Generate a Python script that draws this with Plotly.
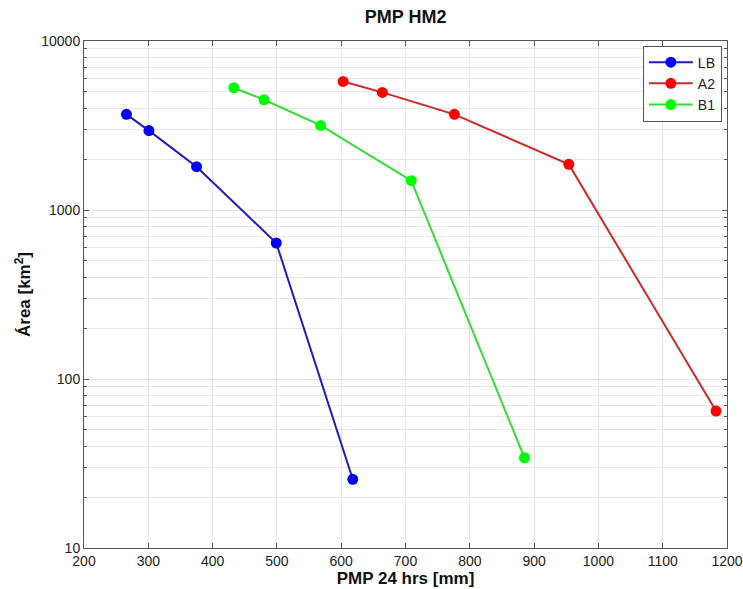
import plotly.graph_objects as go

lb_x = [266, 301, 375, 499, 618]
lb_y = [3680, 2950, 1805, 638, 25.5]
a2_x = [603, 664, 776, 954, 1183]
a2_y = [5765, 4965, 3680, 1862, 64.6]
b1_x = [433, 480, 568, 709, 885]
b1_y = [5290, 4490, 3167, 1492, 34.2]

series = [
    ("LB", lb_x, lb_y, "#1c1cc0", "#0000ff"),
    ("A2", a2_x, a2_y, "#cc2a2a", "#ff0000"),
    ("B1", b1_x, b1_y, "#33dd33", "#00ff00"),
]

FONT = "Liberation Sans, Arial"

fig = go.Figure()
for name, xs, ys, lc, mc in series:
    fig.add_trace(go.Scatter(
        x=xs, y=ys, name=name, mode="lines+markers",
        line=dict(color=lc, width=2),
        marker=dict(color=mc, size=11, line=dict(width=0)),
    ))

axis_common = dict(
    showline=True, linecolor="#555555", linewidth=1, mirror="ticks",
    ticks="inside", ticklen=5, tickcolor="#555555",
    gridcolor="#e3e3e3", gridwidth=1, zeroline=False, automargin=False,
    tickfont=dict(family=FONT, size=14, color="#222222"),
)

fig.update_xaxes(
    range=[200, 1200], dtick=100, tick0=200,
    title=dict(text="<b>PMP 24 hrs [mm]</b>", font=dict(family=FONT, size=17, color="#111111"), standoff=4),
    **axis_common,
)
fig.update_yaxes(
    type="log", range=[1, 4],
    tickvals=[10, 100, 1000, 10000], ticktext=["10", "100", "1000", "10000"],
    minor=dict(dtick="D1", showgrid=True, gridcolor="#e8e8e8", ticks="inside", ticklen=3, tickcolor="#555555"),
    title=dict(text="<b>Área [km<sup>2</sup>]</b>", font=dict(family=FONT, size=17, color="#111111"), standoff=6),
    **axis_common,
)

fig.update_layout(
    width=743, height=589,
    margin=dict(l=84, r=16, t=41, b=41),
    paper_bgcolor="white", plot_bgcolor="white",
    title=dict(text="<b>PMP HM2</b>", x=0.546, xanchor="center", y=0.972, yanchor="middle",
               font=dict(family=FONT, size=18, color="#111111")),
    legend=dict(x=0.992, y=0.991, xanchor="right", yanchor="top",
                bgcolor="white", bordercolor="#555555", borderwidth=1,
                font=dict(family=FONT, size=14, color="#222222"),
                tracegroupgap=0, itemwidth=44),
    showlegend=True,
)

fig.write_html("out.html")
